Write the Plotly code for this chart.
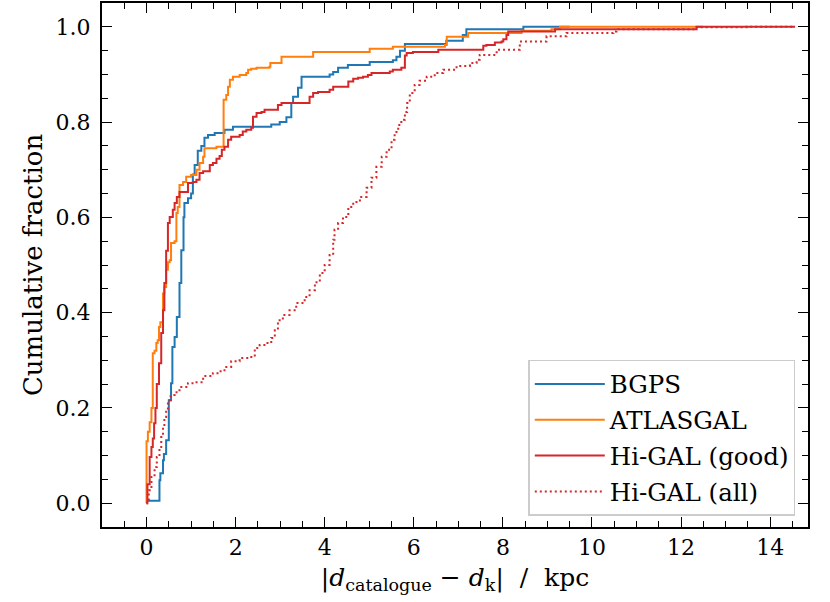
import plotly.graph_objects as go

# BGPS
bgps_x = [0.00, 0.29, 0.31, 0.37, 0.39, 0.44, 0.50, 0.55, 0.58, 0.63, 0.68, 0.74, 0.78, 0.83, 0.85,
          0.93, 1.00, 1.04, 1.08, 1.15, 1.23, 1.30, 1.38, 1.53, 1.75, 1.94, 2.80, 2.99, 3.14, 3.25,
          3.29, 3.40, 3.48, 4.11, 4.19, 4.30, 4.52, 5.01, 5.53, 5.61, 5.69, 5.80, 6.73, 7.10, 7.18,
          8.46, 9.50]
bgps_y = [0.005, 0.048, 0.063, 0.090, 0.103, 0.132, 0.216, 0.252, 0.328, 0.349, 0.391, 0.462, 0.531,
          0.600, 0.630, 0.640, 0.650, 0.690, 0.710, 0.740, 0.750, 0.767, 0.773, 0.777, 0.784, 0.790,
          0.795, 0.800, 0.810, 0.840, 0.853, 0.872, 0.895, 0.900, 0.905, 0.914, 0.920, 0.926, 0.930,
          0.937, 0.950, 0.964, 0.971, 0.983, 0.995, 1.000, 1.000]

# ATLASGAL
atlas_x = [0.00, 0.00, 0.03, 0.07, 0.11, 0.14, 0.18, 0.22, 0.25, 0.28, 0.31, 0.37, 0.40, 0.44, 0.48,
           0.52, 0.55, 0.63, 0.67, 0.70, 0.74, 0.82, 0.89, 1.00, 1.12, 1.19, 1.27, 1.30, 1.57, 1.73,
           1.79, 1.83, 1.87, 1.94, 2.09, 2.24, 2.28, 2.35, 2.47, 2.76, 2.78, 3.03, 3.74, 5.01, 5.53,
           6.70, 6.74, 7.22, 8.42, 9.09, 9.28, 12.50]
atlas_y = [0.000, 0.130, 0.150, 0.170, 0.200, 0.315, 0.320, 0.336, 0.342, 0.370, 0.380, 0.440, 0.454,
           0.490, 0.506, 0.510, 0.546, 0.550, 0.609, 0.622, 0.668, 0.674, 0.685, 0.689, 0.700, 0.714,
           0.727, 0.745, 0.748, 0.847, 0.857, 0.874, 0.889, 0.895, 0.899, 0.903, 0.910, 0.912, 0.914,
           0.916, 0.924, 0.937, 0.947, 0.954, 0.958, 0.962, 0.979, 0.987, 0.992, 0.995, 1.000, 1.000]

# Hi-GAL (good)
good_x = [0.00, 0.02, 0.07, 0.11, 0.14, 0.17, 0.20, 0.23, 0.28, 0.33, 0.37, 0.40, 0.44, 0.48, 0.52,
          0.59, 0.63, 0.68, 0.74, 0.93, 1.04, 1.12, 1.19, 1.27, 1.42, 1.49, 1.57, 1.64, 1.69, 1.75,
          1.83, 1.90, 2.09, 2.16, 2.24, 2.35, 2.39, 2.47, 2.58, 2.65, 2.95, 3.03, 3.66, 3.74, 3.85,
          4.11, 4.19, 4.53, 4.64, 4.75, 4.86, 4.97, 5.05, 5.46, 5.53, 5.72, 5.80, 5.84, 5.98, 6.55,
          7.56, 7.63, 7.82, 7.97, 8.01, 8.08, 8.12, 9.17, 12.35, 14.56]
good_y = [0.000, 0.040, 0.097, 0.118, 0.136, 0.168, 0.200, 0.250, 0.294, 0.357, 0.405, 0.462, 0.530,
          0.588, 0.601, 0.616, 0.630, 0.643, 0.653, 0.672, 0.674, 0.679, 0.693, 0.697, 0.710, 0.714,
          0.723, 0.729, 0.742, 0.748, 0.763, 0.769, 0.773, 0.780, 0.784, 0.788, 0.811, 0.819, 0.821,
          0.826, 0.836, 0.840, 0.853, 0.861, 0.863, 0.868, 0.874, 0.885, 0.891, 0.893, 0.895, 0.899,
          0.903, 0.906, 0.910, 0.914, 0.940, 0.945, 0.947, 0.952, 0.960, 0.962, 0.967, 0.969, 0.974,
          0.983, 0.990, 0.995, 1.000, 1.000]

# Hi-GAL (all)
all_x = [0.00, 0.01, 0.05, 0.11, 0.18, 0.23, 0.29, 0.33, 0.37, 0.40, 0.44, 0.48, 0.54, 0.63, 0.74,
         0.93, 1.08, 1.27, 1.49, 1.64, 1.75, 1.90, 2.09, 2.31, 2.43, 2.54, 2.69, 2.80, 2.88, 2.95,
         3.06, 3.21, 3.36, 3.55, 3.66, 3.78, 3.89, 4.00, 4.11, 4.19, 4.22, 4.30, 4.41, 4.53, 4.64,
         4.79, 4.94, 5.05, 5.16, 5.28, 5.39, 5.50, 5.57, 5.65, 5.72, 5.80, 5.85, 5.91, 6.02, 6.13,
         6.29, 6.47, 6.66, 6.96, 7.26, 7.41, 7.48, 7.86, 8.38, 8.98, 9.43, 10.48, 10.55, 12.35,
         13.47, 14.56]
all_y = [0.000, 0.006, 0.027, 0.055, 0.076, 0.097, 0.118, 0.139, 0.160, 0.181, 0.195, 0.216, 0.227,
         0.233, 0.244, 0.252, 0.254, 0.267, 0.273, 0.277, 0.286, 0.298, 0.305, 0.307, 0.326, 0.332,
         0.336, 0.347, 0.363, 0.384, 0.395, 0.405, 0.420, 0.433, 0.447, 0.464, 0.483, 0.500, 0.521,
         0.553, 0.574, 0.588, 0.601, 0.622, 0.632, 0.643, 0.662, 0.683, 0.706, 0.727, 0.742, 0.763,
         0.779, 0.794, 0.805, 0.821, 0.840, 0.861, 0.878, 0.887, 0.895, 0.903, 0.910, 0.918, 0.924,
         0.931, 0.941, 0.952, 0.969, 0.980, 0.987, 0.990, 0.995, 0.999, 1.000, 1.000]

x_ticks = [0, 2, 4, 6, 8, 10, 12, 14]
y_ticks = [0.0, 0.2, 0.4, 0.6, 0.8, 1.0]
y_tick_labels = ["0.0", "0.2", "0.4", "0.6", "0.8", "1.0"]

FONT = "DejaVu Serif"
TICK_FS = 22
XTITLE_FS = 25
YTITLE_FS = 26
LEG_FS = 24.5

fig = go.Figure()
series = [
    ("BGPS", bgps_x, bgps_y, "#1f77b4", "solid"),
    ("ATLASGAL", atlas_x, atlas_y, "#ff7f0e", "solid"),
    ("Hi-GAL (good)", good_x, good_y, "#d62728", "solid"),
    ("Hi-GAL (all)", all_x, all_y, "#d62728", "2px,3px"),
]
for i, (name, xs, ys, col, dash) in enumerate(series):
    fig.add_trace(go.Scatter(
        x=xs, y=ys, mode="lines", name=name, legendgroup=f"g{i}",
        line=dict(color=col, width=2, dash=dash, shape="hv"),
    ))

axis_common = dict(
    showline=True, linecolor="black", linewidth=2, mirror="allticks",
    ticks="inside", ticklen=10, tickwidth=1.3, tickcolor="black",
    showgrid=False, zeroline=False, automargin=False,
    tickfont=dict(family=FONT, size=TICK_FS, color="black"),
)

fig.update_xaxes(
    range=[-1, 14.85], tickvals=x_ticks,
    minor=dict(ticks="inside", ticklen=6, tickwidth=1.1, tickcolor="black", dtick=0.5, tick0=0, showgrid=False),
    title=dict(text="|<i>d</i><sub>catalogue</sub> − <i>d</i><sub>k</sub>|  /  kpc",
               font=dict(family=FONT, size=XTITLE_FS, color="black"), standoff=9),
    **axis_common,
)
fig.update_yaxes(
    range=[-0.05, 1.05], tickvals=y_ticks, ticktext=y_tick_labels, ticklabelstandoff=5,
    minor=dict(ticks="inside", ticklen=6, tickwidth=1.1, tickcolor="black", dtick=0.05, tick0=0, showgrid=False),
    title=dict(text="Cumulative fraction", font=dict(family=FONT, size=YTITLE_FS, color="black"), standoff=5),
    **axis_common,
)

fig.update_layout(
    width=830, height=602,
    margin=dict(l=102, r=22, t=3, b=75),
    paper_bgcolor="white", plot_bgcolor="white",
    font=dict(family=FONT, size=TICK_FS, color="black"),
    legend=dict(
        x=0.982, y=0.021, xanchor="right", yanchor="bottom",
        bgcolor="rgba(255,255,255,0.8)", bordercolor="#cccccc", borderwidth=1.5,
        font=dict(family=FONT, size=LEG_FS, color="black"),
        tracegroupgap=1, itemwidth=70,
    ),
    showlegend=True,
)

fig.write_html("out.html", config={"displayModeBar": False},
               post_script="document.body.style.margin='0';")
